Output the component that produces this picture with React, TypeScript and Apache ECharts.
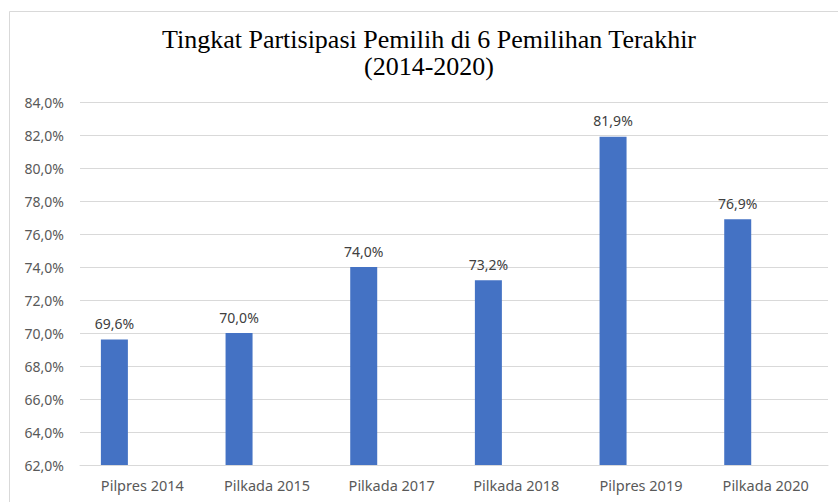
import React, { useEffect, useRef } from "react";
import * as echarts from "echarts";

const categories = ["Pilpres 2014", "Pilkada 2015", "Pilkada 2017", "Pilkada 2018", "Pilpres 2019", "Pilkada 2020"];
const values = [69.6, 70.0, 74.0, 73.2, 81.9, 76.9];
const emptySeries = [null, null, null, null, null, null];
const titleLines = ["Tingkat Partisipasi Pemilih di 6 Pemilihan Terakhir", "(2014-2020)"];

const fmt = (v: number) => v.toFixed(1).replace(".", ",") + "%";

export default function App() {
  const ref = useRef<HTMLDivElement>(null);
  useEffect(() => {
    document.body.style.margin = "0";
    const chart = echarts.init(ref.current!, null, { renderer: "svg" });
    const labelFont = "'Noto Sans', 'Open Sans', sans-serif";
    const titleFont = "26px 'Liberation Serif', 'DejaVu Serif', serif";
    chart.setOption({
      animation: false,
      backgroundColor: "#ffffff",
      graphic: [
        {
          type: "rect",
          shape: { x: 9.5, y: 11.5, width: 900, height: 600 },
          style: { fill: "none", stroke: "#d9d9d9", lineWidth: 1 },
          z: 0,
        },
        {
          type: "text",
          x: 429,
          y: 39,
          style: {
            text: titleLines[0],
            font: titleFont,
            fill: "#000000",
            textAlign: "center",
            textVerticalAlign: "middle",
          },
        },
        {
          type: "text",
          x: 429,
          y: 66,
          style: {
            text: titleLines[1],
            font: titleFont,
            fill: "#000000",
            textAlign: "center",
            textVerticalAlign: "middle",
          },
        },
      ],
      grid: { left: 80, right: 10, top: 102, bottom: 37, containLabel: false },
      xAxis: {
        type: "category",
        data: categories,
        axisLine: { show: true, lineStyle: { color: "#d9d9d9" } },
        axisTick: { show: false },
        axisLabel: { color: "#595959", fontSize: 14.5, fontFamily: labelFont, margin: 12 },
      },
      yAxis: {
        type: "value",
        min: 62,
        max: 84,
        interval: 2,
        axisLine: { show: false },
        axisTick: { show: false },
        splitLine: { lineStyle: { color: "#d9d9d9" } },
        axisLabel: {
          color: "#595959",
          fontSize: 14,
          fontFamily: labelFont,
          margin: 16,
          formatter: (v: number) => fmt(v),
        },
      },
      series: [
        {
          type: "bar",
          data: values,
          barWidth: 27,
          barGap: "107%",
          itemStyle: { color: "#4472c4" },
          label: {
            show: true,
            position: "top",
            distance: 9,
            color: "#404040",
            fontSize: 14,
            fontFamily: labelFont,
            formatter: (p: any) => fmt(p.value),
          },
        },
        {
          type: "bar",
          data: emptySeries,
          barWidth: 27,
          itemStyle: { color: "#ed7d31" },
        },
      ],
    });
    return () => chart.dispose();
  }, []);
  return <div ref={ref} style={{ position: "absolute", left: 0, top: 0, width: 838, height: 502 }} />;
}
